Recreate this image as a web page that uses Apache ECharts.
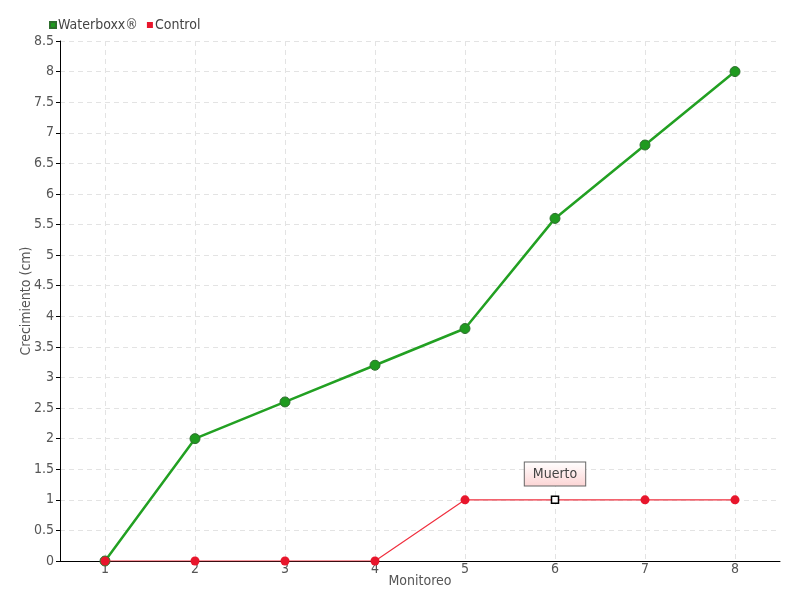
<!DOCTYPE html>
<html>
<head>
<meta charset="utf-8">
<script src="https://cdn.jsdelivr.net/npm/echarts@6/dist/echarts.min.js"></script>
<style>
html, body { margin: 0; padding: 0; background: #fff; }
#chart { width: 800px; height: 600px; }
</style>
</head>
<body>
<div id="chart"></div>
<script>
var categories = ['1', '2', '3', '4', '5', '6', '7', '8'];
var waterboxx = [0, 2, 2.6, 3.2, 3.8, 5.6, 6.8, 8];
var control = [0, 0, 0, 0, 1, 1, 1, 1];
var deadIndex = 5; // "Muerto" en el monitoreo 6

var font = 'DejaVu Sans Condensed';

var controlData = control.map(function (v, i) {
    if (i !== deadIndex) return v;
    return {
        value: v,
        symbol: 'rect',
        symbolSize: 7,
        itemStyle: { color: '#fff', borderColor: '#000', borderWidth: 1.5 },
        label: {
            show: true,
            position: 'top',
            distance: 10,
            formatter: 'Muerto',
            color: '#444',
            fontFamily: font,
            fontSize: 14,
            padding: [5, 8, 4, 8],
            borderColor: '#666',
            borderWidth: 1,
            backgroundColor: {
                type: 'linear', x: 0, y: 0, x2: 0, y2: 1,
                colorStops: [{ offset: 0, color: '#fff' }, { offset: 1, color: '#fcd4d4' }]
            }
        }
    };
});

var chart = echarts.init(document.getElementById('chart'));
chart.setOption({
    animation: false,
    textStyle: { fontFamily: font },
    legend: {
        left: 44,
        top: 13,
        icon: 'rect',
        itemWidth: 6,
        itemHeight: 6,
        itemGap: 9,
        textStyle: { fontFamily: font, fontSize: 14, color: '#444', padding: [0, 0, 0, -3] },
        data: ['Waterboxx®', 'Control']
    },
    grid: { left: 60, right: 20, top: 41, bottom: 39 },
    xAxis: {
        type: 'category',
        data: categories,
        boundaryGap: true,
        name: 'Monitoreo',
        nameLocation: 'middle',
        nameGap: 13,
        nameMoveOverlap: false,
        nameTextStyle: { fontFamily: font, fontSize: 14, color: '#555' },
        axisLine: { lineStyle: { color: '#000' } },
        axisTick: { alignWithLabel: true, length: 4, lineStyle: { color: '#000' } },
        axisLabel: { fontFamily: font, fontSize: 14, color: '#555', margin: 1 },
        splitLine: { show: true, alignWithLabel: true, lineStyle: { color: '#e3e3e3', type: [5, 4] } }
    },
    yAxis: {
        type: 'value',
        min: 0,
        max: 8.5,
        interval: 0.5,
        name: 'Crecimiento (cm)',
        nameLocation: 'middle',
        nameGap: 27,
        nameMoveOverlap: false,
        nameTextStyle: { fontFamily: font, fontSize: 14, color: '#555' },
        axisLine: { show: true, lineStyle: { color: '#000' } },
        axisTick: { show: true, length: 4, lineStyle: { color: '#000' } },
        axisLabel: { fontFamily: font, fontSize: 14, color: '#555', margin: 6 },
        splitLine: { show: true, lineStyle: { color: '#e3e3e3', type: [5, 4] } }
    },
    series: [{
        name: 'Waterboxx®',
        type: 'line',
        data: waterboxx,
        symbol: 'circle',
        symbolSize: 10,
        color: '#1fa01f',
        lineStyle: { width: 2.5, color: '#22a022' },
        itemStyle: { color: '#1f9a1f', borderColor: '#2e6e2e', borderWidth: 1 },
        z: 2
    }, {
        name: 'Control',
        type: 'line',
        data: controlData,
        symbol: 'circle',
        symbolSize: 9,
        color: '#e8162c',
        lineStyle: { width: 1.2, color: '#f0303f' },
        itemStyle: { color: '#e8162c' },
        z: 3
    }]
});
</script>
</body>
</html>
